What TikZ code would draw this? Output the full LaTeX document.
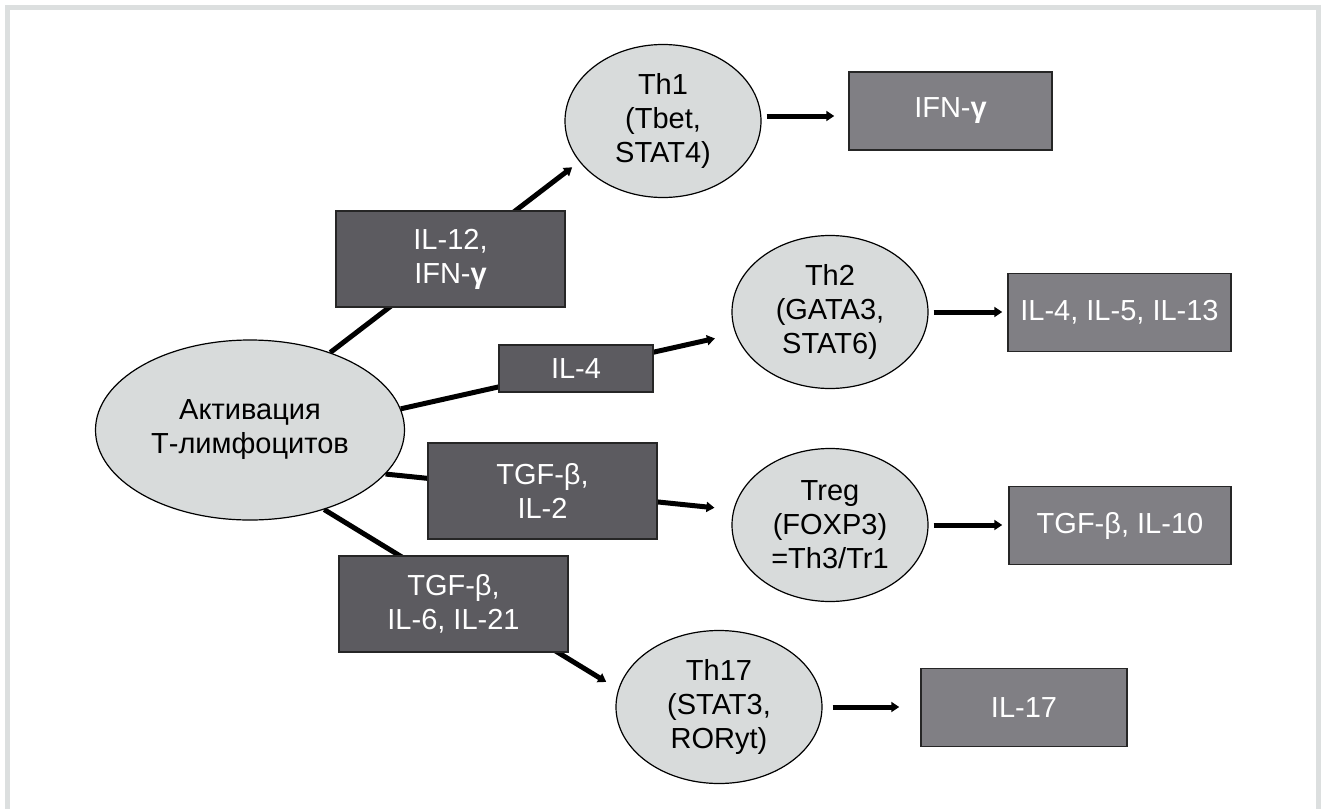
\documentclass[tikz,border=0pt]{standalone}
\usepackage{fontspec}
\setmainfont{Liberation Sans}
\usetikzlibrary{arrows.meta,shapes.geometric,backgrounds}
\definecolor{framegray}{HTML}{DCDFDF}
\definecolor{cellgray}{HTML}{D8DBDB}
\definecolor{darkbox}{HTML}{5C5B60}
\definecolor{lightbox}{HTML}{807F84}

\begin{document}
\begin{tikzpicture}[x=1pt, y=-1pt,
              every node/.style = {align=center, inner sep=0pt, font=\fontsize{29}{34}\selectfont},
              cell/.style = {ellipse, draw, line width=1.2pt, fill=cellgray, minimum width=196pt, minimum height=153pt},
              cyto/.style = {rectangle, draw=black!85, line width=1.5pt, fill=darkbox, text=white, minimum width=229pt},
              product/.style = {rectangle, draw=black!85, line width=1.5pt, fill=lightbox, text=white, minimum height=78pt},
              arr/.style = {line width=5pt, -{Triangle[length=8pt,width=10pt]}, shorten <=5pt}]
  \useasboundingbox (0,0) rectangle (1326,809);
  % frame
  \begin{scope}[on background layer]
    \fill[framegray] (5,5) rectangle (1321,809);
    \fill[white] (10,10) rectangle (1316,809);
  \end{scope}

  % cells
  \node[cell, minimum width=309pt, minimum height=180pt] (act) at (250,430) {Активация\\Т-лимфоцитов};
  \node[cell] (th1) at (663,121) {Th1\\(Tbet,\\STAT4)};
  \node[cell] (th2) at (830,312) {Th2\\(GATA3,\\STAT6)};
  \node[cell] (treg) at (830,525) {Treg\\(FOXP3)\\=Th3/Tr1};
  \node[cell, minimum width=206pt] (th17) at (719,707) {Th17\\(STAT3,\\RORyt)};

  % inducing cytokines
  \node[cyto, minimum height=96pt] (il12) at (450.5,259) {IL-12,\\IFN-\textbf{γ}};
  \node[cyto, minimum width=154pt, minimum height=47pt] (il4) at (576,368.5) {IL-4};
  \node[cyto, minimum height=96pt] (tgfil2) at (542.5,491) {TGF-β,\\IL-2};
  \node[cyto, minimum height=96pt] (tgfil6) at (453.5,604) {TGF-β,\\IL-6, IL-21};

  % products
  \node[product, minimum width=203pt] (ifn) at (950.5,111) {IFN-\textbf{γ}};
  \node[product, minimum width=223pt] (il4513) at (1119.5,312.5) {IL-4, IL-5, IL-13};
  \node[product, minimum width=222pt] (il10) at (1120,525.5) {TGF-β, IL-10};
  \node[product, minimum width=206pt] (il17) at (1024,707.5) {IL-17};

  \begin{scope}[on background layer]
    \draw[arr, shorten <=0pt, shorten >=9pt] (act.44) -- (th1.206);
    \draw[arr, shorten <=0pt, shorten >=21pt] (act.8) -- (th2.193);
    \draw[arr, shorten <=0pt, shorten >=19pt] (act.342) -- (treg.171);
    \draw[arr, shorten <=0pt, shorten >=14pt] (act.313) -- (th17.170);
  \end{scope}

  \draw[arr, shorten >=14pt] (th1.east |- 0,116) -- (ifn.west |- 0,116);
  \draw[arr, shorten >=5pt] (th2.east) -- (il4513.west |- th2.east);
  \draw[arr, shorten >=6pt] (treg.east) -- (il10.west |- treg.east);
  \draw[arr, shorten <=10pt, shorten >=21pt] (th17.east) -- (il17.west |- th17.east);
\end{tikzpicture}
\end{document}
